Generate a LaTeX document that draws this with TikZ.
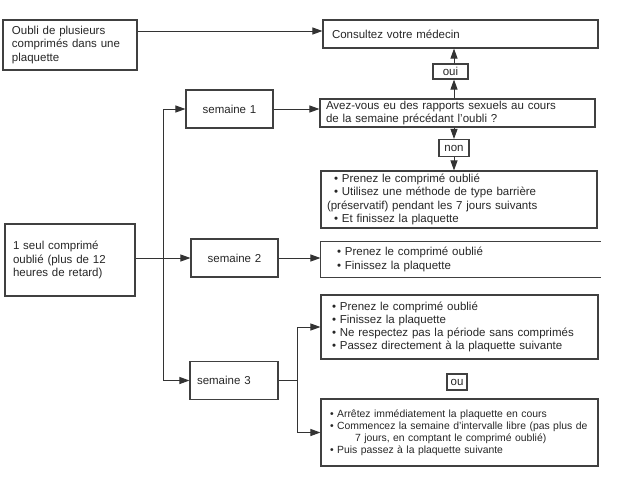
\documentclass[tikz,border=0pt]{standalone}
\usepackage{fontspec}
\setmainfont{Liberation Sans}
\usetikzlibrary{arrows.meta}

\begin{document}
\begin{tikzpicture}[x=1pt, y=-1pt]
    \useasboundingbox (0,0) rectangle (620,496);
    \tikzstyle{BoxStyle}=[draw=black!75, line width=1.1pt, text=black!85, inner xsep=9pt, inner ysep=0pt, font=\fontsize{11.5}{13.3}\selectfont, align=left]
    \tikzstyle{WeekStyle}=[BoxStyle, align=center, text width=69pt, minimum height=38pt]
    \tikzstyle{TagStyle}=[draw=black!75, line width=1.1pt, text=black!85, inner sep=0pt, font=\fontsize{11.5}{12}\selectfont]
    \tikzstyle{EdgeStyle}=[draw=black!80, line width=1pt, -{Triangle[length=10pt,width=7pt]}]
    % left column
    \node[BoxStyle, text width=116pt, minimum height=50pt] (plusieurs) at (70,45) {Oubli de plusieurs\\comprimés dans une\\plaquette};
    \node[BoxStyle, text width=114pt, inner xsep=8pt, minimum height=72pt] (seul) at (70,260) {1 seul comprimé\\oublié (plus de 12\\heures de retard)};
    % weeks
    \node[WeekStyle] (sem1) at (229.5,109) {semaine 1};
    \node[WeekStyle] (sem2) at (234.5,258) {semaine 2};
    \node[WeekStyle, align=left, inner xsep=7pt, text width=74pt] (sem3) at (234,380.5) {semaine 3};
    % right column
    \node[BoxStyle, text width=257pt, minimum height=28pt] (medecin) at (460.5,34) {Consultez votre médecin};
    \node[TagStyle, minimum width=35pt, minimum height=15pt] (oui) at (450.5,71.5) {oui};
    \node[BoxStyle, text width=263pt, inner xsep=6pt, minimum height=28pt] (rapports) at (457.5,113) {Avez-vous eu des rapports sexuels au cours\\de la semaine précédant l'oubli ?};
    \node[TagStyle, minimum width=30pt, minimum height=17pt] (non) at (454,148) {non};
    \node[BoxStyle, text width=264pt, inner xsep=6pt, minimum height=57pt] (s1res) at (459,199.5) {\hspace*{7pt}\textbullet\ Prenez le comprimé oublié\\\hspace*{7pt}\textbullet\ Utilisez une méthode de type barrière\\(préservatif) pendant les 7 jours suivants\\\hspace*{7pt}\textbullet\ Et finissez la plaquette};
    \node[BoxStyle, draw=none, text width=267pt, inner xsep=6pt, minimum height=35pt] (s2res) at (460.5,259.5) {\hspace*{10pt}\textbullet\ Prenez le comprimé oublié\\\hspace*{10pt}\textbullet\ Finissez la plaquette};
    \draw[black!75, line width=1.1pt] (s2res.north east) -- (s2res.north west) -- (s2res.south west) -- (s2res.south east);
    \node[BoxStyle, text width=267pt, inner xsep=5pt, minimum height=64pt] (s3a) at (459.5,327) {\hspace*{6pt}\textbullet\ Prenez le comprimé oublié\\\hspace*{6pt}\textbullet\ Finissez la plaquette\\\hspace*{6pt}\textbullet\ Ne respectez pas la période sans comprimés\\\hspace*{6pt}\textbullet\ Passez directement à la plaquette suivante};
    \node[TagStyle, minimum width=20pt, minimum height=16pt] (ou) at (457,382) {ou};
    \node[BoxStyle, font=\fontsize{10.4}{12}\selectfont, text width=273pt, inner xsep=2pt, minimum height=67pt] (s3b) at (459.5,432.5) {\hspace*{7pt}\textbullet\ Arrêtez immédiatement la plaquette en cours\\\mbox{\hspace*{7pt}\textbullet\ Commencez la semaine d'intervalle libre (pas plus de}\\\hspace*{32pt}7 jours, en comptant le comprimé oublié)\\\hspace*{7pt}\textbullet\ Puis passez à la plaquette suivante};
    % connectors
    \coordinate (trunk) at (163,0);
    \coordinate (split) at (297,0);
    \draw[EdgeStyle] (plusieurs.east |- 0,31) -- (medecin.west |- 0,31);
    \draw[EdgeStyle] (sem1.east) -- (sem1.east -| rapports.west);
    \draw[EdgeStyle] (rapports.north -| non) -- (oui.south -| non);
    \draw[EdgeStyle] (oui.north -| non) -- (medecin.south -| non);
    \draw[EdgeStyle] (rapports.south -| non) -- (non.north);
    \draw[EdgeStyle] (non.south) -- (s1res.north -| non);
    \draw[EdgeStyle] (seul.east |- sem2) -- (sem2.west);
    \draw[EdgeStyle] (sem2.east) -- (sem2.east -| s2res.west);
    \draw[EdgeStyle] (trunk |- sem1) -- (sem1.west);
    \draw[EdgeStyle] (trunk |- sem1) |- (sem3.west);
    \draw[black!80, line width=1pt] (sem3.east) -- (split |- sem3);
    \draw[EdgeStyle] (split |- s3a) -- (s3a.west);
    \draw[EdgeStyle] (split |- s3a) |- (s3b.west);
\end{tikzpicture}
\end{document}
